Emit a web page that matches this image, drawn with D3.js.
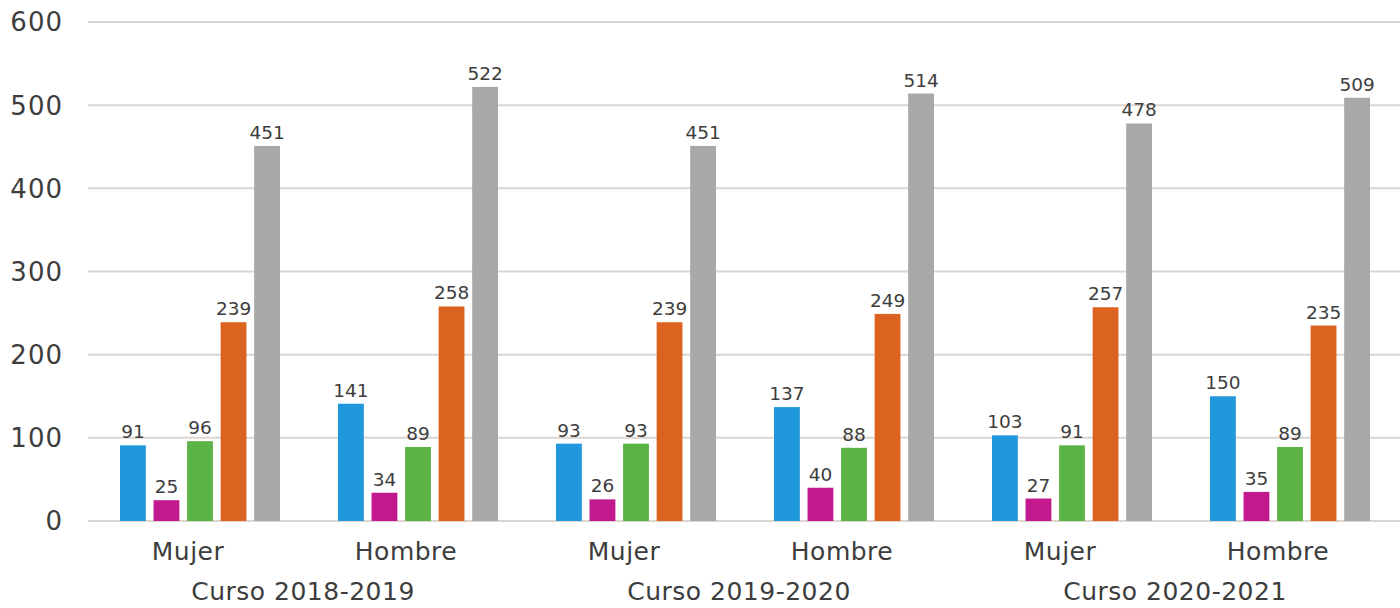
<!DOCTYPE html>
<html>
<head>
<meta charset="utf-8">
<script src="https://cdn.jsdelivr.net/npm/d3@7"></script>
<style>
  body { margin: 0; background: #fff; }
  text { font-family: "DejaVu Sans", sans-serif; fill: #3d3d3d; }
</style>
</head>
<body>
<div id="chart-area"></div>
<script>
// datos
var groups = ["Mujer", "Hombre", "Mujer", "Hombre", "Mujer", "Hombre"];
var courses = ["Curso 2018-2019", "Curso 2019-2020", "Curso 2020-2021"];
var yTicks = [0, 100, 200, 300, 400, 500, 600];

var serie1 = [91, 141, 93, 137, 103, 150];
var serie2 = [25, 34, 26, 40, 27, 35];
var serie3 = [96, 89, 93, 88, 91, 89];
var serie4 = [239, 258, 239, 249, 257, 235];
var serie5 = [451, 522, 451, 514, 478, 509];

var series = [serie1, serie2, serie3, serie4, serie5];
var colors = ["#1f98dc", "#c3198f", "#5cb346", "#dc6220", "#a8a9a7"];

var width = 1400;
var height = 608;
var margin = { left: 91, right: 1, top: 22, bottom: 87 };
var innerH = height - margin.top - margin.bottom;

var svg = d3.select("#chart-area").append("svg")
    .attr("width", width)
    .attr("height", height);

var g = svg.append("g")
    .attr("transform", "translate(" + margin.left + ", " + margin.top + ")");

var x = d3.scaleBand()
    .domain(d3.range(groups.length))
    .range([0, width - margin.left - margin.right]);

var xInner = d3.scaleBand()
    .domain(d3.range(series.length))
    .range([0, x.bandwidth()])
    .paddingInner(0.23)
    .paddingOuter(0.865);

var y = d3.scaleLinear()
    .domain([0, 600])
    .range([innerH, 0]);

// grid
g.selectAll(".grid")
    .data(yTicks)
    .enter().append("line")
    .attr("class", "grid")
    .attr("x1", -3)
    .attr("x2", width - margin.left)
    .attr("y1", (d) => y(d))
    .attr("y2", (d) => y(d))
    .attr("stroke", "#ddd6d0")
    .attr("stroke-width", 2);

// y labels
g.selectAll(".ylab")
    .data(yTicks)
    .enter().append("text")
    .attr("class", "ylab")
    .attr("x", -28)
    .attr("y", (d) => y(d))
    .attr("dy", "0.36em")
    .attr("text-anchor", "end")
    .attr("font-size", "26px")
    .attr("letter-spacing", "1px")
    .text((d) => d);

// barras
series.forEach((s, i) => {
    var bars = g.selectAll(".bar" + i).data(s);
    bars.enter().append("rect")
        .attr("x", (d, j) => x(j) + xInner(i))
        .attr("y", (d) => y(d))
        .attr("width", xInner.bandwidth())
        .attr("height", (d) => innerH - y(d))
        .attr("fill", colors[i]);

    g.selectAll(".val" + i).data(s).enter().append("text")
        .attr("x", (d, j) => x(j) + xInner(i) + xInner.bandwidth() / 2)
        .attr("y", (d) => y(d) - 7)
        .attr("text-anchor", "middle")
        .attr("font-size", "18.5px")
        .text((d) => d);
});

// X labels
g.selectAll(".xlab")
    .data(groups)
    .enter().append("text")
    .attr("x", (d, j) => x(j) + x.bandwidth() / 2 - 12)
    .attr("y", innerH + 39)
    .attr("text-anchor", "middle")
    .attr("font-size", "25px")
    .attr("letter-spacing", "0.5px")
    .text((d) => d);

g.selectAll(".course")
    .data(courses)
    .enter().append("text")
    .attr("x", (d, k) => x(2 * k + 1) - 6)
    .attr("y", innerH + 79)
    .attr("text-anchor", "middle")
    .attr("font-size", "25px")
    .attr("letter-spacing", "0.5px")
    .text((d) => d);
</script>
</body>
</html>
